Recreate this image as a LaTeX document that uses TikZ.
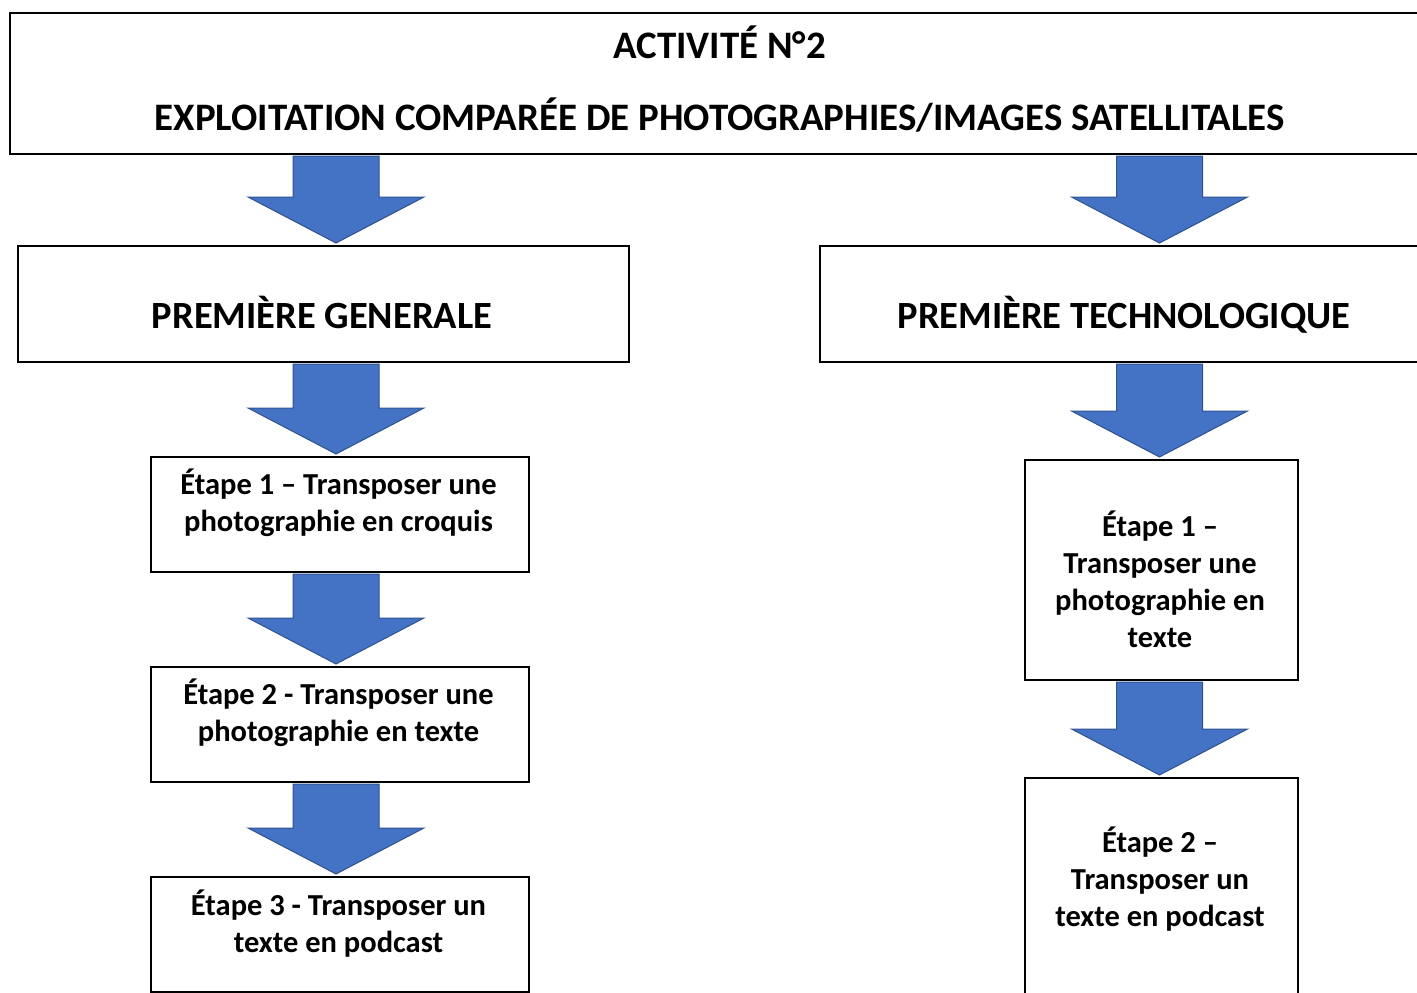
\documentclass[tikz,border=0pt]{standalone}
\usepackage{fontspec}
\setmainfont{Carlito}
\usepackage{tikz}
\usetikzlibrary{calc}
\definecolor{arrowblue}{HTML}{4472C4}
\definecolor{arrowedge}{HTML}{2F528F}
\tikzstyle{box} = [rectangle, draw=black, line width=2pt, inner sep=0pt, fill=white]
\tikzstyle{boxtext} = [align=center, inner sep=0pt, font=\bfseries\fontsize{30.5}{37}\selectfont]
\tikzstyle{headtext} = [align=center, inner sep=0pt, font=\bfseries\fontsize{38.5}{46}\selectfont]
\tikzstyle{bluearrow} = [fill=arrowblue, draw=arrowedge, line width=1pt]
% block arrow: #1 column, #2 upper node, #3 lower node
\newcommand{\bigarrow}[3]{%
  \filldraw[bluearrow] ($(#1 |- #2.south)+(-43,1)$) -- ($(#1 |- #2.south)+(43,1)$)
    -- ($(#1 |- #3.north)+(43,-48)$) -- ($(#1 |- #3.north)+(88,-48)$)
    -- ($(#1 |- #3.north)+(0,-2)$)
    -- ($(#1 |- #3.north)+(-88,-48)$) -- ($(#1 |- #3.north)+(-43,-48)$) -- cycle;}

\begin{document}
\begin{tikzpicture}[x=1pt, y=-1pt]
\useasboundingbox (0,0) rectangle (1417,993);
\coordinate (colL) at (336,0);
\coordinate (colR) at (1159.5,0);

\node (activite) [box, minimum width=1419, minimum height=141] at (719.5,83.5) {};
\node (activiteT) [headtext, font=\bfseries\fontsize{38.9}{46}\selectfont] at (719.5,79) {ACTIVITÉ N°2\\[25.5pt]EXPLOITATION COMPARÉE DE PHOTOGRAPHIES/IMAGES SATELLITALES};

\node (generale) [box, minimum width=611, minimum height=116] at (323.5,304) {};
\node (generaleT) [headtext, anchor=base] at (322,328) {PREMIÈRE GENERALE};
\node (techno) [box, minimum width=608, minimum height=116] at (1124,304) {};
\node (technoT) [headtext, anchor=base] at (1124,328) {PREMIÈRE TECHNOLOGIQUE};

\node (gEtape1) [box, minimum width=378, minimum height=115] at (340,514.5) {};
\node (gEtape1T) [boxtext] at (338.5,503) {Étape 1 – Transposer une\\photographie en croquis};
\node (gEtape2) [box, minimum width=378, minimum height=115] at (340,724.5) {};
\node (gEtape2T) [boxtext] at (338.5,712.5) {Étape 2 - Transposer une\\photographie en texte};
\node (gEtape3) [box, minimum width=378, minimum height=115] at (340,934.5) {};
\node (gEtape3T) [boxtext] at (338.5,924) {Étape 3 - Transposer un\\texte en podcast};

\node (tEtape1) [box, minimum width=273, minimum height=220] at (1161.5,570) {};
\node (tEtape1T) [boxtext] at (1160,579) {Étape 1 –\\Transposer une\\photographie en\\texte};
\node (tEtape2) [box, minimum width=273, minimum height=260] at (1161.5,908) {};
\node (tEtape2T) [boxtext] at (1160,879) {Étape 2 –\\Transposer un\\texte en podcast};

\bigarrow{colL}{activite}{generale}
\bigarrow{colL}{generale}{gEtape1}
\bigarrow{colL}{gEtape1}{gEtape2}
\bigarrow{colL}{gEtape2}{gEtape3}
\bigarrow{colR}{activite}{techno}
\bigarrow{colR}{techno}{tEtape1}
\bigarrow{colR}{tEtape1}{tEtape2}
\end{tikzpicture}
\end{document}
